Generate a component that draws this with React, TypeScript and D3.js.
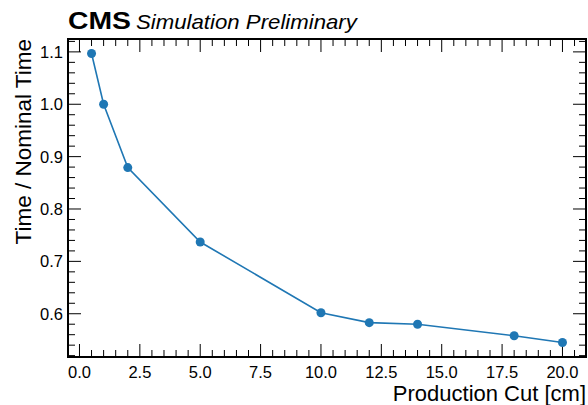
import React, { useEffect, useRef } from "react";
import * as d3 from "d3";

const cuts = [0.5, 1, 2, 5, 10, 12, 14, 18, 20];
const timeRatio = [1.097, 1.0, 0.879, 0.737, 0.602, 0.583, 0.58, 0.558, 0.545];
const xTicks = [0, 2.5, 5, 7.5, 10, 12.5, 15, 17.5, 20];
const yTicks = [0.6, 0.7, 0.8, 0.9, 1.0, 1.1];

function App() {
  const ref = useRef<SVGSVGElement>(null);
  const width = 588;
  const height = 405;
  const m = { left: 68, right: 2, top: 39, bottom: 48 };

  useEffect(() => {
    const svg = d3.select(ref.current);
    svg.selectAll("*").remove();
    const font = "'Liberation Sans', Arial, sans-serif";

    // matplotlib-style 5% margins
    const xPad = (d3.max(cuts)! - d3.min(cuts)!) * 0.05;
    const yPad = (d3.max(timeRatio)! - d3.min(timeRatio)!) * 0.05;
    const x = d3
      .scaleLinear()
      .domain([d3.min(cuts)! - xPad, d3.max(cuts)! + xPad])
      .range([m.left, width - m.right]);
    const y = d3
      .scaleLinear()
      .domain([d3.min(timeRatio)! - yPad, d3.max(timeRatio)! + yPad])
      .range([height - m.bottom, m.top]);

    const x0 = m.left, x1 = width - m.right, y0 = height - m.bottom, y1 = m.top;

    // ticks, inside on all sides
    const ticks = svg.append("g").attr("stroke", "#000").attr("stroke-width", 1);
    const xMinor = d3.range(0, 21, 0.5).filter((v) => !xTicks.includes(v));
    const yMinor = d3.range(0.52, 1.125, 0.02).map((v) => +v.toFixed(2)).filter((v) => !yTicks.includes(v));
    const majLen = 13, minLen = 7;
    xTicks.forEach((v) => {
      ticks.append("line").attr("x1", x(v)).attr("x2", x(v)).attr("y1", y0).attr("y2", y0 - majLen);
      ticks.append("line").attr("x1", x(v)).attr("x2", x(v)).attr("y1", y1).attr("y2", y1 + majLen);
    });
    xMinor.forEach((v) => {
      ticks.append("line").attr("x1", x(v)).attr("x2", x(v)).attr("y1", y0).attr("y2", y0 - minLen);
      ticks.append("line").attr("x1", x(v)).attr("x2", x(v)).attr("y1", y1).attr("y2", y1 + minLen);
    });
    yTicks.forEach((v) => {
      ticks.append("line").attr("y1", y(v)).attr("y2", y(v)).attr("x1", x0).attr("x2", x0 + majLen);
      ticks.append("line").attr("y1", y(v)).attr("y2", y(v)).attr("x1", x1).attr("x2", x1 - majLen);
    });
    yMinor.forEach((v) => {
      ticks.append("line").attr("y1", y(v)).attr("y2", y(v)).attr("x1", x0).attr("x2", x0 + minLen);
      ticks.append("line").attr("y1", y(v)).attr("y2", y(v)).attr("x1", x1).attr("x2", x1 - minLen);
    });

    // tick labels
    svg
      .append("g")
      .selectAll("text")
      .data(xTicks)
      .join("text")
      .attr("x", (d) => x(d))
      .attr("y", y0 + 21)
      .attr("text-anchor", "middle")
      .attr("font-family", font)
      .attr("font-size", 16.5)
      .text((d) => d.toFixed(1));
    svg
      .append("g")
      .selectAll("text")
      .data(yTicks)
      .join("text")
      .attr("x", x0 - 5)
      .attr("y", (d) => y(d) + 6)
      .attr("text-anchor", "end")
      .attr("font-family", font)
      .attr("font-size", 16.5)
      .text((d) => d.toFixed(1));

    // line + markers
    const pts = cuts.map((c, i) => [c, timeRatio[i]] as [number, number]);
    svg
      .append("path")
      .datum(pts)
      .attr("d", d3.line().x((d) => x(d[0])).y((d) => y(d[1])))
      .attr("fill", "none")
      .attr("stroke", "#1f77b4")
      .attr("stroke-width", 1.6);
    svg
      .append("g")
      .selectAll("circle")
      .data(pts)
      .join("circle")
      .attr("cx", (d) => x(d[0]))
      .attr("cy", (d) => y(d[1]))
      .attr("r", 4.5)
      .attr("fill", "#1f77b4");

    // frame
    svg
      .append("rect")
      .attr("x", x0)
      .attr("y", y1)
      .attr("width", x1 - x0)
      .attr("height", y0 - y1)
      .attr("fill", "none")
      .attr("stroke", "#000")
      .attr("stroke-width", 2);

    // axis labels
    svg
      .append("text")
      .attr("x", x1)
      .attr("y", 401)
      .attr("text-anchor", "end")
      .attr("font-family", font)
      .attr("font-size", 22)
      .text("Production Cut [cm]");
    svg
      .append("text")
      .attr("transform", `translate(31,${y1}) rotate(-90)`)
      .attr("text-anchor", "end")
      .attr("font-family", font)
      .attr("font-size", 22.5)
      .text("Time / Nominal Time");

    // CMS label, glyphs widened to fit the reference width
    const widen = (tx: number, w: number, el: d3.Selection<SVGTextElement, unknown, null, undefined>) => {
      const natural = el.node()!.getComputedTextLength() || w;
      el.attr("transform", `translate(${tx},28.5) scale(${w / natural},1)`);
    };
    const cms = svg
      .append("text")
      .attr("font-family", font)
      .attr("font-weight", "bold")
      .attr("font-size", 24)
      .text("CMS");
    widen(x0, 63, cms);
    const sim = svg
      .append("text")
      .attr("font-family", font)
      .attr("font-style", "italic")
      .attr("font-size", 20)
      .text("Simulation Preliminary");
    widen(136, 221, sim);
  }, []);

  return (
    <svg
      ref={ref}
      width={width}
      height={height}
      style={{ display: "block", position: "absolute", left: 0, top: 0 }}
    />
  );
}

export default App;
